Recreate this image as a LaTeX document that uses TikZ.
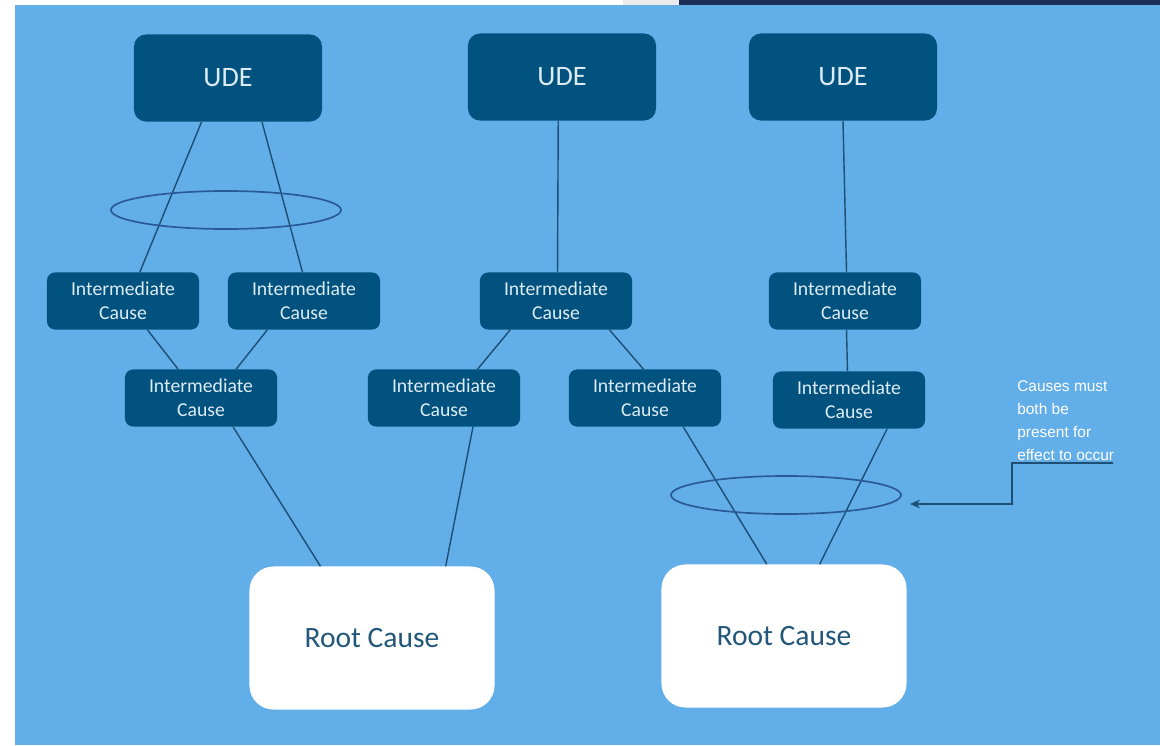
\documentclass[tikz,border=0pt]{standalone}
\usepackage{fontspec}
\setmainfont{Carlito}
\newfontfamily\notefont{Liberation Sans}
\usepackage{xcolor}
\usetikzlibrary{shapes.geometric, arrows.meta, calc}
\definecolor{bgblue}{HTML}{62AEE8}
\definecolor{boxblue}{HTML}{01527E}
\definecolor{boxtext}{HTML}{DDECF4}
\definecolor{rootText}{HTML}{22577A}
\definecolor{linkblue}{HTML}{1D4E74}
\definecolor{ringblue}{HTML}{2A5A96}
\definecolor{navy}{HTML}{1B2F57}
\tikzset{
every picture/.style={x=0.025cm, y=-0.025cm},
%%%%%%%%%%  Node styles
ude/.style={fill=boxblue, rounded corners=0.3cm, minimum width=4.7cm,
            minimum height=2.175cm, inner sep=0pt, text=boxtext,
            font=\fontsize{20}{24}\selectfont},
cause/.style={fill=boxblue, rounded corners=0.2cm, minimum width=3.8cm,
              minimum height=1.425cm, inner sep=0pt, text=boxtext, align=center,
              font=\fontsize{14}{17}\selectfont},
rootbox/.style={fill=white, rounded corners=0.6cm, minimum width=6.125cm,
                minimum height=3.575cm, inner sep=0pt, text=rootText,
                font=\fontsize{21}{25}\selectfont},
ring/.style={ellipse, draw=ringblue, line width=1.2pt, minimum width=5.75cm,
             minimum height=0.95cm, inner sep=0pt},
note/.style={text=white, align=left, inner sep=0pt,
             font=\notefont\fontsize{11}{16.4}\selectfont},
%%%% line styles
link/.style={draw=linkblue, line width=1pt},
pointer/.style={draw=linkblue, line width=1.2pt, -{Stealth[length=7pt,width=6pt]}}
}

\begin{document}
\begin{tikzpicture}
%%background
\useasboundingbox (0,0) rectangle (1160,745);
\fill[white] (0,0) rectangle (1160,745);
\fill[bgblue] (15,5) rectangle (1160,745);
\fill[black!8] (623,0) rectangle (679,5);
\fill[navy] (679,0) rectangle (1160,5);
%%%%%%%%%%%%%%%%%%%%%%%
%%UDEs
\node[ude] (ude1) at (228,78) {UDE};
\node[ude] (ude2) at (562,77) {UDE};
\node[ude] (ude3) at (843,77) {UDE};
%%intermediate causes
\node[cause] (ic1) at (123,301) {Intermediate\\Cause};
\node[cause] (ic2) at (304,301) {Intermediate\\Cause};
\node[cause] (ic3) at (201,398) {Intermediate\\Cause};
\node[cause] (ic4) at (556,301) {Intermediate\\Cause};
\node[cause] (ic5) at (444,398) {Intermediate\\Cause};
\node[cause] (ic6) at (645,398) {Intermediate\\Cause};
\node[cause] (ic7) at (845,301) {Intermediate\\Cause};
\node[cause] (ic8) at (849,400) {Intermediate\\Cause};
%%root causes
\node[rootbox] (root1) at (372,638) {Root Cause};
\node[rootbox] (root2) at (784,636) {Root Cause};
%%%%%%%%%%%%%%%%%%%%%%%
%%left tree
\draw[link] ($(ude1.south west)!0.36!(ude1.south east)$) -- ($(ic1.north west)!0.61!(ic1.north east)$);
\draw[link] ($(ude1.south west)!0.68!(ude1.south east)$) -- ($(ic2.north west)!0.49!(ic2.north east)$);
\draw[link] ($(ic1.south west)!0.66!(ic1.south east)$) -- ($(ic3.north west)!0.35!(ic3.north east)$);
\draw[link] ($(ic2.south west)!0.26!(ic2.south east)$) -- ($(ic3.north west)!0.73!(ic3.north east)$);
\draw[link] ($(ic3.south west)!0.71!(ic3.south east)$) -- ($(root1.north west)!0.29!(root1.north east)$);
%%middle tree
\draw[link] ($(ude2.south west)!0.48!(ude2.south east)$) -- ($(ic4.north west)!0.51!(ic4.north east)$);
\draw[link] ($(ic4.south west)!0.2!(ic4.south east)$) -- ($(ic5.north west)!0.72!(ic5.north east)$);
\draw[link] ($(ic4.south west)!0.85!(ic4.south east)$) -- ($(ic6.north west)!0.49!(ic6.north east)$);
\draw[link] ($(ic5.south west)!0.69!(ic5.south east)$) -- ($(root1.north west)!0.8!(root1.north east)$);
%%right tree
\draw[link] (ude3.south) -- ($(ic7.north west)!0.51!(ic7.north east)$);
\draw[link] ($(ic7.south west)!0.51!(ic7.south east)$) -- ($(ic8.north west)!0.49!(ic8.north east)$);
\draw[link] ($(ic6.south west)!0.75!(ic6.south east)$) -- ($(root2.north west)!0.43!(root2.north east)$);
\draw[link] ($(ic8.south west)!0.75!(ic8.south east)$) -- ($(root2.north west)!0.645!(root2.north east)$);
%%and-rings
\node[ring] (ring1) at (226,210) {};
\node[ring] (ring2) at (786,495) {};
%%%%%%%%%%%%%%%%%%%%%%%
%%note with arrow
\node[note, anchor=north west] (note) at (1017,380)
	{Causes must\\both be\\present for\\effect to occur};
\coordinate (notestart) at (1113,463);
\coordinate (arrowtip) at (910,504);
\draw[pointer] (notestart) -- ++(-101,0) |- (arrowtip);
\end{tikzpicture}
\end{document}
